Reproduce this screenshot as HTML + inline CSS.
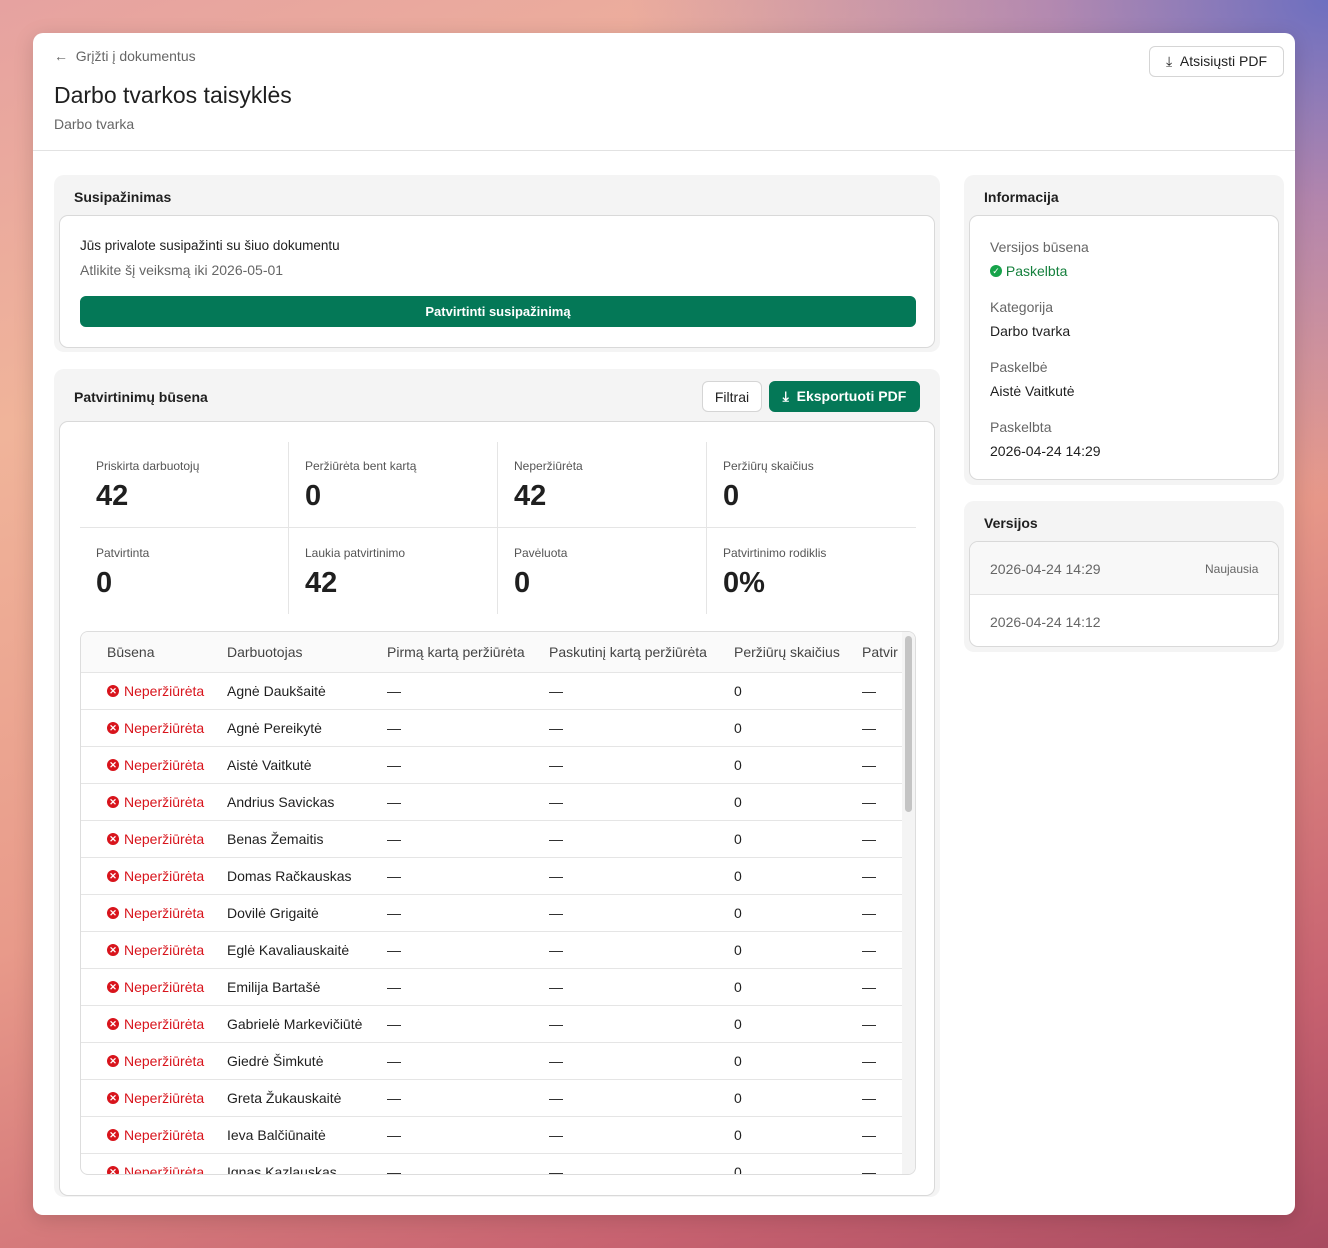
<!DOCTYPE html>
<html><head><meta charset="utf-8"><style>
*{box-sizing:border-box;margin:0;padding:0}
body{width:1328px;height:1248px;overflow:hidden;font-family:"Liberation Sans",sans-serif;color:#1f1f1f;
background:linear-gradient(160deg,#e6a2a0 0%,#f0b49a 25%,#e89a8a 55%,#c76270 85%,#a84a60 100%);position:relative}
.bgp{position:absolute;inset:0;background:radial-gradient(ellipse 700px 500px at 1328px 0,#6d6fc0 0%,rgba(140,110,190,.6) 40%,rgba(0,0,0,0) 100%)}
.win{position:absolute;left:33px;top:33px;width:1262px;height:1182px;background:#fff;border-radius:10px;overflow:hidden;box-shadow:0 4px 20px rgba(0,0,0,.15)}
.a{position:absolute}
.t{position:absolute;white-space:nowrap;font-size:14px;line-height:16px}
.gray{color:#666}
.card{position:absolute;background:#f4f4f4;border-radius:10px}
.inner{position:absolute;background:#fff;border:1px solid #d9d9d9;border-radius:9px}
.btn{position:absolute;border:1px solid #d5d5d5;border-radius:6px;background:#fff;font-size:14px;display:flex;align-items:center;justify-content:center;font-weight:bold;color:#222}
.green{background:#047857;color:#fff;border-color:#047857}
.lbl{font-size:12px;color:#555}
.val{font-size:29px;font-weight:bold;line-height:32px}
.row{position:absolute;left:0;width:821px;height:37px;border-top:1px solid #e5e5e5;font-size:14px}
.row span{position:absolute;top:10px;white-space:nowrap}
.x{display:inline-block;width:12px;height:12px;border-radius:50%;background:#d8141c;color:#fff;font-size:9px;line-height:12px;text-align:center;font-weight:bold;vertical-align:middle;margin-right:5px;position:relative!important;top:-1px!important}
</style></head><body><div class="bgp"></div>
<div class="win">
<div class="t gray" style="left:21px;top:15px">←&nbsp;&nbsp;Grįžti į dokumentus</div>
<div class="t" style="left:21px;top:49px;font-size:23px;line-height:26px">Darbo tvarkos taisyklės</div>
<div class="t gray" style="left:21px;top:83px">Darbo tvarka</div>
<div class="btn" style="left:1116px;top:13px;width:135px;height:31px;font-weight:normal">⤓&nbsp;&nbsp;Atsisiųsti PDF</div>
<div class="a" style="left:0;top:117px;width:1262px;height:1px;background:#e2e2e2"></div>

<div class="card" style="left:21px;top:142px;width:886px;height:177px">
<div class="t" style="left:20px;top:14px;font-weight:bold">Susipažinimas</div>
<div class="inner" style="left:5px;top:40px;width:876px;height:133px">
<div class="t" style="left:20px;top:22px;font-size:13.5px">Jūs privalote susipažinti su šiuo dokumentu</div>
<div class="t gray" style="left:20px;top:46px">Atlikite šį veiksmą iki 2026-05-01</div>
<div class="btn green" style="left:20px;top:80px;width:836px;height:31px;font-size:13px">Patvirtinti susipažinimą</div>
</div></div>

<div class="card" style="left:21px;top:336px;width:886px;height:828px">
<div class="t" style="left:20px;top:20px;font-weight:bold">Patvirtinimų būsena</div>
<div class="btn" style="left:648px;top:12px;width:60px;height:31px;font-weight:normal">Filtrai</div>
<div class="btn green" style="left:715px;top:12px;width:151px;height:31px">⤓&nbsp;&nbsp;Eksportuoti PDF</div>
<div class="inner" style="left:5px;top:52px;width:876px;height:775px;overflow:hidden">
<div class="a" style="left:20px;top:20px;width:836px;height:172px">
<div class="a" style="left:0;top:85px;width:836px;height:1px;background:#e5e5e5"></div>
<div class="a" style="left:208px;top:0;width:1px;height:172px;background:#e5e5e5"></div>
<div class="a" style="left:417px;top:0;width:1px;height:172px;background:#e5e5e5"></div>
<div class="a" style="left:626px;top:0;width:1px;height:172px;background:#e5e5e5"></div>
<div class="t lbl" style="left:16px;top:16px">Priskirta darbuotojų</div><div class="t val" style="left:16px;top:38px">42</div>
<div class="t lbl" style="left:225px;top:16px">Peržiūrėta bent kartą</div><div class="t val" style="left:225px;top:38px">0</div>
<div class="t lbl" style="left:434px;top:16px">Neperžiūrėta</div><div class="t val" style="left:434px;top:38px">42</div>
<div class="t lbl" style="left:643px;top:16px">Peržiūrų skaičius</div><div class="t val" style="left:643px;top:38px">0</div>
<div class="t lbl" style="left:16px;top:103px">Patvirtinta</div><div class="t val" style="left:16px;top:125px">0</div>
<div class="t lbl" style="left:225px;top:103px">Laukia patvirtinimo</div><div class="t val" style="left:225px;top:125px">42</div>
<div class="t lbl" style="left:434px;top:103px">Pavėluota</div><div class="t val" style="left:434px;top:125px">0</div>
<div class="t lbl" style="left:643px;top:103px">Patvirtinimo rodiklis</div><div class="t val" style="left:643px;top:125px">0%</div>
</div>
<div class="a" style="left:20px;top:209px;width:836px;height:544px;border:1px solid #ddd;border-radius:8px;overflow:hidden">
<div class="a" style="left:0;top:0;width:821px;height:40px;background:#fafafa;font-size:14px;color:#444">
<span class="t" style="left:26px;top:12px">Būsena</span><span class="t" style="left:146px;top:12px">Darbuotojas</span><span class="t" style="left:306px;top:12px">Pirmą kartą peržiūrėta</span><span class="t" style="left:468px;top:12px">Paskutinį kartą peržiūrėta</span><span class="t" style="left:653px;top:12px">Peržiūrų skaičius</span><span class="t" style="left:781px;top:12px">Patvir</span></div>
<div class="a" style="left:821px;top:0;width:14px;height:544px;background:#f4f4f4"><div class="a" style="left:3px;top:4px;width:7px;height:176px;background:#c4c4c4;border-radius:4px"></div></div>
<div id="rows"></div>
</div>
</div></div>

<div class="card" style="left:931px;top:142px;width:320px;height:310px">
<div class="t" style="left:20px;top:14px;font-weight:bold">Informacija</div>
<div class="inner" style="left:5px;top:40px;width:310px;height:265px">
<div class="t gray" style="left:20px;top:23px">Versijos būsena</div>
<div class="t" style="left:20px;top:47px;color:#15803d"><span style="display:inline-block;width:12px;height:12px;border-radius:50%;background:#16a34a;color:#fff;font-size:9px;line-height:12px;text-align:center;vertical-align:middle;position:relative;top:-1px">✓</span> Paskelbta</div>
<div class="t gray" style="left:20px;top:83px">Kategorija</div>
<div class="t" style="left:20px;top:107px">Darbo tvarka</div>
<div class="t gray" style="left:20px;top:143px">Paskelbė</div>
<div class="t" style="left:20px;top:167px">Aistė Vaitkutė</div>
<div class="t gray" style="left:20px;top:203px">Paskelbta</div>
<div class="t" style="left:20px;top:227px">2026-04-24 14:29</div>
</div></div>

<div class="card" style="left:931px;top:468px;width:320px;height:151px">
<div class="t" style="left:20px;top:14px;font-weight:bold">Versijos</div>
<div class="inner" style="left:5px;top:40px;width:310px;height:106px;overflow:hidden">
<div class="a" style="left:0;top:0;width:310px;height:53px;background:#f8f8f8;border-bottom:1px solid #e3e3e3"></div>
<div class="t gray" style="left:20px;top:19px">2026-04-24 14:29</div>
<div class="t gray" style="left:235px;top:19px;font-size:12px">Naujausia</div>
<div class="t gray" style="left:20px;top:72px">2026-04-24 14:12</div>
</div></div>
</div>
<script>
var n=["Agnė Daukšaitė","Agnė Pereikytė","Aistė Vaitkutė","Andrius Savickas","Benas Žemaitis","Domas Račkauskas","Dovilė Grigaitė","Eglė Kavaliauskaitė","Emilija Bartašė","Gabrielė Markevičiūtė","Giedrė Šimkutė","Greta Žukauskaitė","Ieva Balčiūnaitė","Ignas Kazlauskas"],h="";
n.forEach(function(x,i){h+='<div class="row" style="top:'+(40+i*37)+'px"><span style="left:26px;color:#d8141c"><span class="x">✕</span>Neperžiūrėta</span><span style="left:146px">'+x+'</span><span style="left:306px">—</span><span style="left:468px">—</span><span style="left:653px">0</span><span style="left:781px">—</span></div>'});
document.getElementById("rows").innerHTML=h;
</script>
</body></html>
